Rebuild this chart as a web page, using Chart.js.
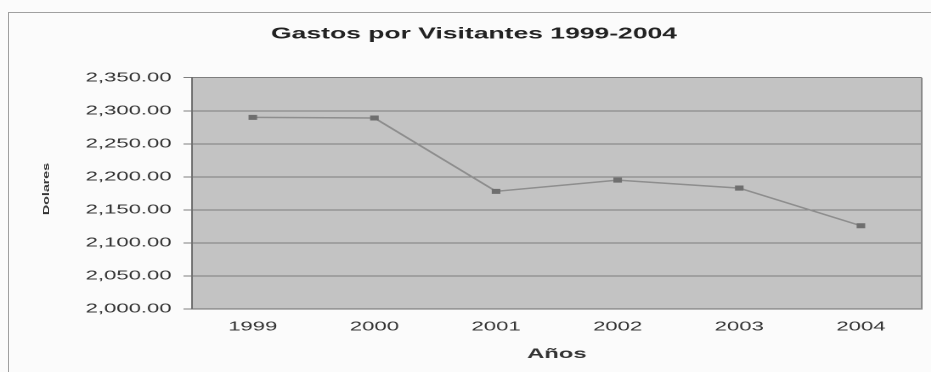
<!DOCTYPE html>
<html>
<head>
    <script src="https://cdn.jsdelivr.net/npm/chart.js"></script>
    <style>
        body { margin: 0; background: #fbfbfb; overflow: hidden; }
        .frame {
            position: absolute; left: 8px; top: 12px; width: 931px; height: 372px;
            border-top: 1px solid #a0a0a0; border-left: 1px solid #a0a0a0;
        }
        /* the chart is laid out narrow and widened, which gives the broad lettering */
        .container {
            position: absolute; left: 0; top: 0; width: 548px; height: 372px;
            transform: scaleX(1.699); transform-origin: 0 0;
        }
        .ytitle {
            position: absolute; left: 46px; top: 189px;
            font: bold 9px "Liberation Sans", Arial, sans-serif; color: #333;
            white-space: nowrap;
            transform: translate(-50%, -50%) rotate(-90deg) scaleX(1.58);
        }
    </style>
</head>
<body>
    <div class="frame"></div>
    <div class="container">
        <canvas id="gastosChart" width="548" height="372"></canvas>
    </div>
    <div class="ytitle">Dolares</div>

    <script>
    const years = ["1999", "2000", "2001", "2002", "2003", "2004"];
    const gastos = [2290, 2289, 2178, 2195, 2183, 2126];
    const yMin = 2000;
    const yMax = 2350;
    const yStep = 50;

    // gray plot background and a frame round it
    const plotBackground = {
      id: "plotBackground",
      beforeDraw(chart) {
        const { ctx, chartArea } = chart;
        ctx.save();
        ctx.fillStyle = "#c3c3c3";
        ctx.fillRect(chartArea.left, chartArea.top, chartArea.width, chartArea.height);
        ctx.restore();
      },
      afterDraw(chart) {
        const { ctx, chartArea } = chart;
        ctx.save();
        ctx.strokeStyle = "#8a8a8a";
        ctx.lineWidth = 1;
        ctx.beginPath();
        ctx.moveTo(chartArea.right, chartArea.top);
        ctx.lineTo(chartArea.right, chartArea.bottom);
        ctx.stroke();
        ctx.restore();
      }
    };

    const ctx = document.getElementById("gastosChart").getContext("2d");
    new Chart(ctx, {
      type: "line",
      data: {
        labels: years,
        datasets: [{
          data: gastos,
          borderColor: "#8e8e8e",
          borderWidth: 1.5,
          pointStyle: "rect",
          pointRadius: 2.5,
          pointBackgroundColor: "#6f6f6f",
          pointBorderColor: "#6f6f6f",
          tension: 0
        }]
      },
      options: {
        responsive: false,
        animation: false,
        devicePixelRatio: 2,
        layout: { padding: { left: 15, right: 5, top: 0, bottom: 9.6 } },
        plugins: {
          legend: { display: false },
          tooltip: { enabled: false },
          title: {
            display: true,
            text: "Gastos por Visitantes 1999-2004",
            color: "#222",
            font: { family: "Liberation Sans", size: 15.6, weight: "bold" },
            padding: { top: 25, bottom: 34 }
          }
        },
        scales: {
          x: {
            offset: true,
            grid: { display: false, drawTicks: false },
            border: { color: "#6e6e6e", width: 1 },
            ticks: {
              color: "#333",
              padding: 10,
              font: { family: "Liberation Sans", size: 13 }
            },
            title: {
              display: true,
              text: "Años",
              color: "#333",
              font: { family: "Liberation Sans", size: 14, weight: "bold" },
              padding: { top: 1, bottom: 0 }
            }
          },
          y: {
            min: yMin,
            max: yMax,
            afterFit(scale) { scale.width = 98; },
            grid: { color: "#7e7e7e", lineWidth: 1, tickLength: 5 },
            border: { color: "#6e6e6e", width: 1 },
            ticks: {
              stepSize: yStep,
              color: "#333",
              padding: 7,
              font: { family: "Liberation Sans", size: 13 },
              callback: value => value.toLocaleString("en-US", { minimumFractionDigits: 2, maximumFractionDigits: 2 })
            }
          }
        }
      },
      plugins: [plotBackground]
    });
    </script>
</body>
</html>
